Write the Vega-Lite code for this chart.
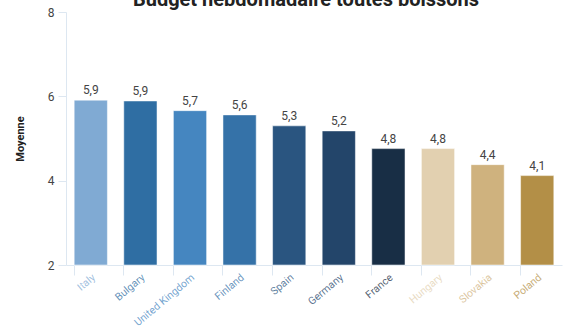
{
  "$schema": "https://vega.github.io/schema/vega-lite/v6.json",
  "autosize": "none",
  "width": 496,
  "height": 253,
  "padding": {"left": 66, "top": 12, "right": 3, "bottom": 66},
  "background": "white",
  "title": {
    "text": "Budget hebdomadaire toutes boissons",
    "font": "Roboto",
    "fontSize": 20,
    "fontWeight": "bold",
    "color": "#222222",
    "anchor": "middle",
    "dx": -8,
    "dy": 20,
    "offset": 0,
    "baseline": "alphabetic"
  },
  "data": {
    "values": [
      {"country": "Italy", "value": 5.91},
      {"country": "Bulgary", "value": 5.89},
      {"country": "United Kingdom", "value": 5.66},
      {"country": "Finland", "value": 5.56},
      {"country": "Spain", "value": 5.3},
      {"country": "Germany", "value": 5.18},
      {"country": "France", "value": 4.76},
      {"country": "Hungary", "value": 4.76},
      {"country": "Slovakia", "value": 4.38},
      {"country": "Poland", "value": 4.12}
    ]
  },
  "encoding": {
    "x": {
      "field": "country",
      "type": "nominal",
      "sort": null,
      "scale": {"paddingInner": 0.33, "paddingOuter": 0.165},
      "axis": {
        "title": null,
        "bandPosition": 0,
        "domainColor": "#dde7f1",
        "tickColor": "#dde7f1",
        "tickSize": 10,
        "labelAngle": -40,
        "labelFont": "Roboto",
        "labelFontSize": 10.5,
        "labelPadding": -3,
        "labelOpacity": 0.75,
        "labelColor": {"expr": "scale('color', datum.value)"}
      }
    },
    "y": {
      "field": "value",
      "type": "quantitative",
      "scale": {"domain": [2, 8], "zero": false, "nice": false},
      "axis": {
        "title": "Moyenne",
        "titleFont": "Roboto",
        "titleFontSize": 11,
        "titleFontWeight": "bold",
        "titleColor": "#222222",
        "titlePadding": 22,
        "values": [2, 4, 6, 8],
        "grid": false,
        "domainColor": "#dde7f1",
        "tickColor": "#dde7f1",
        "tickSize": 8,
        "labelFont": "Roboto",
        "labelFontSize": 12,
        "labelColor": "#444444",
        "labelPadding": 4
      }
    }
  },
  "layer": [
    {
      "mark": {"type": "bar", "stroke": "#ffffff", "strokeOpacity": 0.5, "strokeWidth": 1},
      "encoding": {
        "y2": {"datum": 2},
        "color": {
          "field": "country",
          "type": "nominal",
          "scale": {
            "domain": ["Italy", "Bulgary", "United Kingdom", "Finland", "Spain", "Germany", "France", "Hungary", "Slovakia", "Poland"],
            "range": ["#80aad3", "#2f6ea3", "#4586c0", "#3572a8", "#2a5580", "#23456a", "#182e45", "#e2d0b0", "#cfb27e", "#b38f47"]
          },
          "legend": null
        }
      }
    },
    {
      "mark": {"type": "text", "dy": -10, "font": "Roboto", "fontSize": 12, "color": "#444444"},
      "encoding": {
        "text": {"field": "value", "type": "quantitative", "format": ".1f"}
      }
    }
  ],
  "config": {
    "view": {"stroke": null},
    "locale": {"number": {"decimal": ",", "thousands": " ", "grouping": [3], "currency": ["", " €"]}}
  }
}
